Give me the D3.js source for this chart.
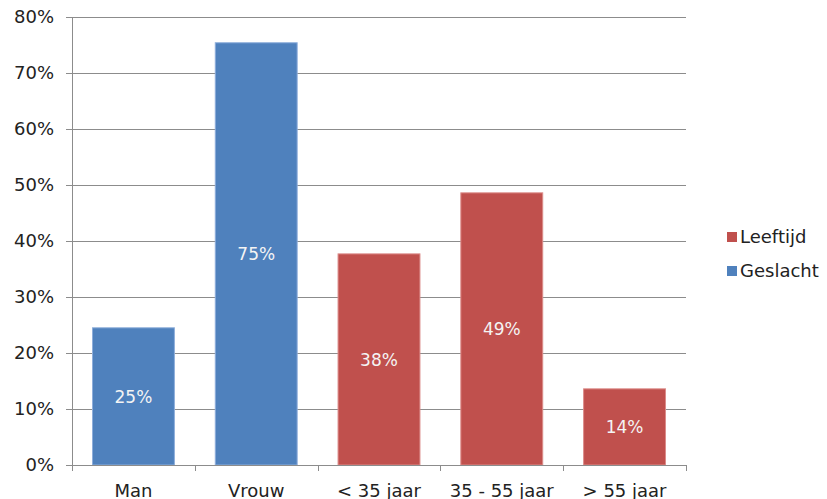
<!DOCTYPE html>
<html>
<head>
<meta charset="utf-8">
<script src="https://cdn.jsdelivr.net/npm/d3@7"></script>
<style>
  html, body { margin: 0; padding: 0; background: #fff; }
  svg { display: block; font-family: "DejaVu Sans", Verdana, sans-serif; }
  .axis text { fill: #222; }
</style>
</head>
<body>
<svg id="chart" width="827" height="499"></svg>
<script>
// ---------- data ----------
const categories = ["Man", "Vrouw", "< 35 jaar", "35 - 55 jaar", "> 55 jaar"];
const values = [0.245, 0.754, 0.377, 0.486, 0.136];
const series = ["Geslacht", "Geslacht", "Leeftijd", "Leeftijd", "Leeftijd"];
const legendOrder = ["Leeftijd", "Geslacht"];
const yTicks = [0, 0.1, 0.2, 0.3, 0.4, 0.5, 0.6, 0.7, 0.8];

const colors = { Geslacht: "#4F81BD", Leeftijd: "#C0504D" };
const edges = { Geslacht: "#8EAEDB", Leeftijd: "#DC8C8A" };

const svg = d3.select("#chart");
const margin = { top: 17, right: 141, bottom: 34, left: 72 };
const W = 827, H = 499;
const innerW = W - margin.left - margin.right;
const innerH = H - margin.top - margin.bottom;

const x = d3.scaleBand().domain(categories).range([0, innerW]).paddingInner(0.333).paddingOuter(0.167);
const y = d3.scaleLinear().domain([0, 0.8]).range([innerH, 0]);

const root = svg.append("g").attr("transform", `translate(${margin.left},${margin.top})`);

// grid
root.append("g").selectAll("line").data(yTicks.filter(d => d > 0)).join("line")
  .attr("x1", 0).attr("x2", innerW)
  .attr("y1", d => Math.round(y(d)) + 0.5).attr("y2", d => Math.round(y(d)) + 0.5)
  .attr("stroke", "#8c8c8c").attr("stroke-width", 1);

// bars
const rows = categories.map((c, i) => ({ cat: c, v: values[i], s: series[i] }));
root.append("g").selectAll("rect").data(rows).join("rect")
  .attr("x", d => x(d.cat))
  .attr("y", d => y(d.v))
  .attr("width", x.bandwidth())
  .attr("height", d => innerH - y(d.v))
  .attr("fill", d => colors[d.s])
  .attr("stroke", d => edges[d.s]).attr("stroke-width", 1);

// value labels
root.append("g").selectAll("text").data(rows).join("text")
  .attr("x", d => x(d.cat) + x.bandwidth() / 2)
  .attr("y", d => (y(d.v) + innerH) / 2)
  .attr("dy", "0.36em")
  .attr("text-anchor", "middle")
  .attr("fill", "#f4f4f4")
  .attr("font-size", 17)
  .text(d => d3.format(".0%")(d.v));

// y axis
const yAxis = d3.axisLeft(y).tickValues(yTicks).tickFormat(d3.format(".0%")).tickSize(6).tickPadding(12);
const yg = root.append("g").attr("class", "axis").call(yAxis);
yg.selectAll("text").attr("font-size", 18).attr("font-family", "DejaVu Sans, Verdana, sans-serif");
yg.selectAll("line, path").attr("stroke", "#8c8c8c");
yg.select("path").attr("d", `M0.5,${innerH}V0`);
yg.selectAll(".tick line").attr("x1", 0.5);

// x axis
const xg = root.append("g").attr("class", "axis").attr("transform", `translate(0,${innerH})`);
xg.append("line").attr("x1", 0).attr("x2", innerW).attr("y1", 0.5).attr("y2", 0.5).attr("stroke", "#8c8c8c");
const bounds = d3.range(categories.length + 1).map(i => i * innerW / categories.length);
xg.selectAll("line.tk").data(bounds).join("line").attr("class", "tk")
  .attr("x1", d => Math.round(d) + 0.5).attr("x2", d => Math.round(d) + 0.5)
  .attr("y1", 0).attr("y2", 6).attr("stroke", "#8c8c8c");
xg.selectAll("text").data(categories).join("text")
  .attr("x", d => x(d) + x.bandwidth() / 2)
  .attr("y", 32)
  .attr("text-anchor", "middle")
  .attr("font-size", 18)
  .attr("fill", "#222")
  .text(d => d);

// legend
const lg = svg.append("g").attr("transform", "translate(727,237)");
lg.selectAll("g").data(legendOrder).join("g")
  .attr("transform", (d, i) => `translate(0,${i * 34})`)
  .each(function (d) {
    const g = d3.select(this);
    g.append("rect").attr("x", 0).attr("y", -5).attr("width", 10).attr("height", 10).attr("fill", colors[d]);
    g.append("text").attr("x", 13).attr("dy", "0.36em").attr("font-size", 18).attr("fill", "#222").text(d);
  });
</script>
</body>
</html>
